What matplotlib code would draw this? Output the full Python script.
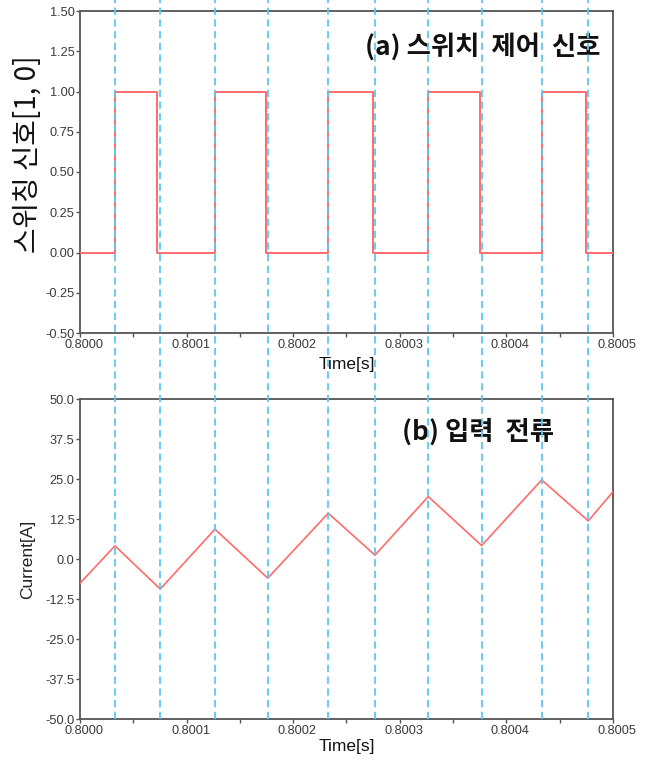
import numpy as np
import matplotlib
matplotlib.use("Agg")
from matplotlib import pyplot as plt
from matplotlib import transforms as mtrans

plt.rcParams['font.family'] = ['Liberation Sans', 'Noto Sans CJK KR', 'DejaVu Sans']

### switching signal: time of each edge and level after it
sw_time = [0.80000, 0.800033, 0.800072, 0.8001265, 0.8001745, 0.800233,
           0.8002745, 0.8003265, 0.800375, 0.800433, 0.8004745, 0.8005]
sw_level = [0, 1, 0, 1, 0, 1, 0, 1, 0, 1, 0, 0]

### input current corner points
cur_time = [0.80000, 0.8000328, 0.8000753, 0.8001266, 0.8001761, 0.8002329,
            0.8002767, 0.8003267, 0.8003768, 0.8004331, 0.8004768, 0.8005]
cur_value = [-7.5, 4.2, -9.3, 9.4, -5.9, 14.4, 1.3, 19.6, 4.3, 24.8, 12.0, 21.1]

### dashed marker lines at the switching instants
mark_time = [0.8000328, 0.8000753, 0.8001266, 0.8001761, 0.8002329,
             0.8002767, 0.8003267, 0.8003768, 0.8004331, 0.8004768]

red = "#ff6b6b"
blue = "#5bc8f0"
spine = "#555555"

fig = plt.figure(figsize=(6.47, 7.66), dpi=100)
ax1 = fig.add_axes([80 / 647, 1 - 333 / 766, 533 / 647, 322 / 766])
ax2 = fig.add_axes([80 / 647, 1 - 719.3 / 766, 533 / 647, 320 / 766])
ax1.set_zorder(3)  # so the dashed lines are drawn over the lower axes too
ax1.patch.set_alpha(0)

shift = mtrans.ScaledTranslation(4 / 100, 0, fig.dpi_scale_trans)


def style(ax):
    for s in ax.spines.values():
        s.set_color(spine)
        s.set_linewidth(1.3)
    ax.set_xlim(0.8, 0.8005)
    ax.set_xticks(np.arange(0, 6) * 0.0001 + 0.8)
    ax.set_xticks(np.arange(0, 11) * 0.00005 + 0.8, minor=True)
    ax.set_xticklabels(["0.8000", "0.8001", "0.8002", "0.8003", "0.8004", "0.8005"])
    ax.tick_params(axis="both", which="both", direction="out", length=3,
                   width=1, color=spine, labelsize=9.2, labelcolor="#3a3a3a", pad=1)
    for lab in ax.get_xticklabels():
        lab.set_transform(lab.get_transform() + shift)
    ax.set_xlabel("Time[s]", fontsize=12.5, color="#111111")


### (a) switching signal
ax1.step(sw_time, sw_level, where="post", color=red, lw=1.4, zorder=3)
ax1.set_ylim(-0.5, 1.5)
ax1.set_yticks(np.arange(-0.5, 1.51, 0.25))
ax1.set_yticklabels(["%.2f" % v for v in np.arange(-0.5, 1.51, 0.25)])
style(ax1)
ax1.xaxis.set_label_coords(0.5, -0.073)
ax1.set_ylabel("스위칭 신호[1, 0]", fontsize=20, family=['Noto Sans CJK KR'],
               fontweight="medium", color="#111111")
ax1.yaxis.set_label_coords(-0.07, 0.556)
ax1.text(0.976, 0.888, "(a) 스위치  제어  신호", transform=ax1.transAxes,
         ha="right", va="center", fontsize=19, fontweight="bold",
         family=['Noto Sans CJK KR'], color="#111111")

### (b) input current
ax2.plot(cur_time, cur_value, color=red, lw=1.2, zorder=3)
ax2.set_ylim(-50, 50)
ax2.set_yticks(np.arange(-50, 50.1, 12.5))
ax2.set_yticklabels(["%.1f" % v for v in np.arange(-50, 50.1, 12.5)])
style(ax2)
ax2.xaxis.set_label_coords(0.5, -0.06)
ax2.set_ylabel("Current[A]", fontsize=12.5, color="#222222")
ax2.yaxis.set_label_coords(-0.084, 0.5)
ax2.text(0.747, 0.898, "(b) 입력  전류", transform=ax2.transAxes,
         ha="center", va="center", fontsize=19, fontweight="bold",
         family=['Noto Sans CJK KR'], color="#111111")

### dashed lines run from the top of the figure down to the lower axis
trans = mtrans.blended_transform_factory(ax1.transData, fig.transFigure)
y_low = 1 - 719.3 / 766
for t in mark_time:
    ax1.plot([t, t], [y_low, 1.0], transform=trans, clip_on=False,
             color=blue, lw=1.3, ls=(0, (4, 2.5)), zorder=5)

fig.savefig("out.png", dpi=100)
